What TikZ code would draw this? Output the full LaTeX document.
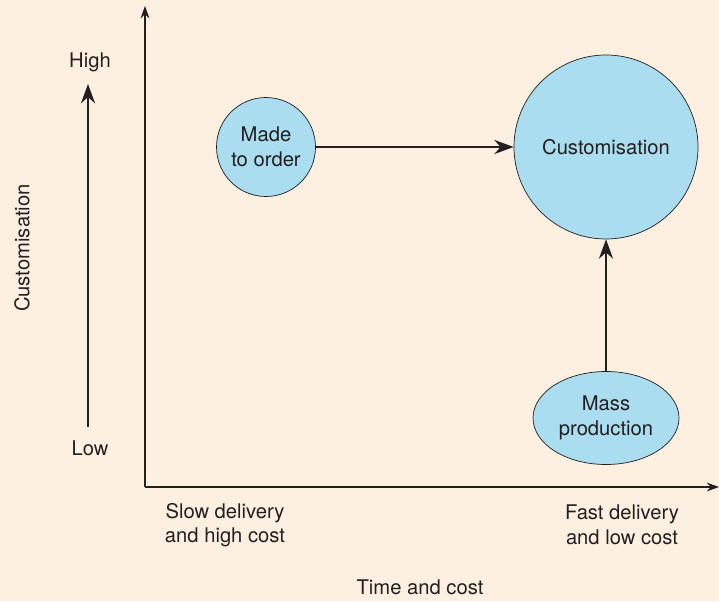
\documentclass[tikz,border=0pt]{standalone}
\usepackage{fontspec}
\setmainfont{TeX Gyre Heros}
\usetikzlibrary{arrows.meta,shapes.geometric}
\definecolor{cream}{HTML}{FDF0E1}
\definecolor{bubble}{HTML}{A9DDEF}
\definecolor{ink}{HTML}{231F20}
\tikzset{
  every node/.style={font=\fontsize{11.5}{14}\selectfont, text=ink, align=center},
  bub/.style={draw=ink, fill=bubble, thin},
  axis/.style={draw=ink, line width=0.6pt, -{Stealth[length=7pt,width=5pt]}},
  move/.style={draw=ink, line width=1.3pt, -{Stealth[length=11pt,width=8pt]}}
}
\begin{document}
\begin{tikzpicture}[x=0.02cm,y=-0.02cm]
\fill[cream] (0,0) rectangle (719,601);
\useasboundingbox (0,0) rectangle (719,601);
\coordinate (o) at (145,487);
\coordinate (ytop) at (145,6);
\coordinate (xend) at (719,487);
\path[axis] (o) -- (ytop);
\path[axis] (o) -- (xend);
\node[bub, circle, minimum size=99*0.02cm, inner sep=0pt] (made) at (266,147) {Made\\to order};
\node[bub, circle, minimum size=184*0.02cm, inner sep=0pt] (cust) at (606,147) {Customisation};
\node[bub, ellipse, minimum width=146*0.02cm, minimum height=93*0.02cm, inner sep=0pt] (mass) at (606,418) {Mass\\production};
\path[move] (made) -- (cust);
\path[move] (mass) -- (cust);
\node (low) at (90,448) {Low};
\node (high) at (90,62) {High};
\coordinate (lo) at (88,427);
\coordinate (hi) at (88,84);
\path[move] (lo) -- (hi);
\node[rotate=90] (ylab) at (22,248) {Customisation};
\node (slow) at (225,525) {Slow delivery\\and high cost};
\node (fast) at (622,525) {Fast delivery\\and low cost};
\node (xlab) at (420,587) {Time and cost};
\end{tikzpicture}
\end{document}
